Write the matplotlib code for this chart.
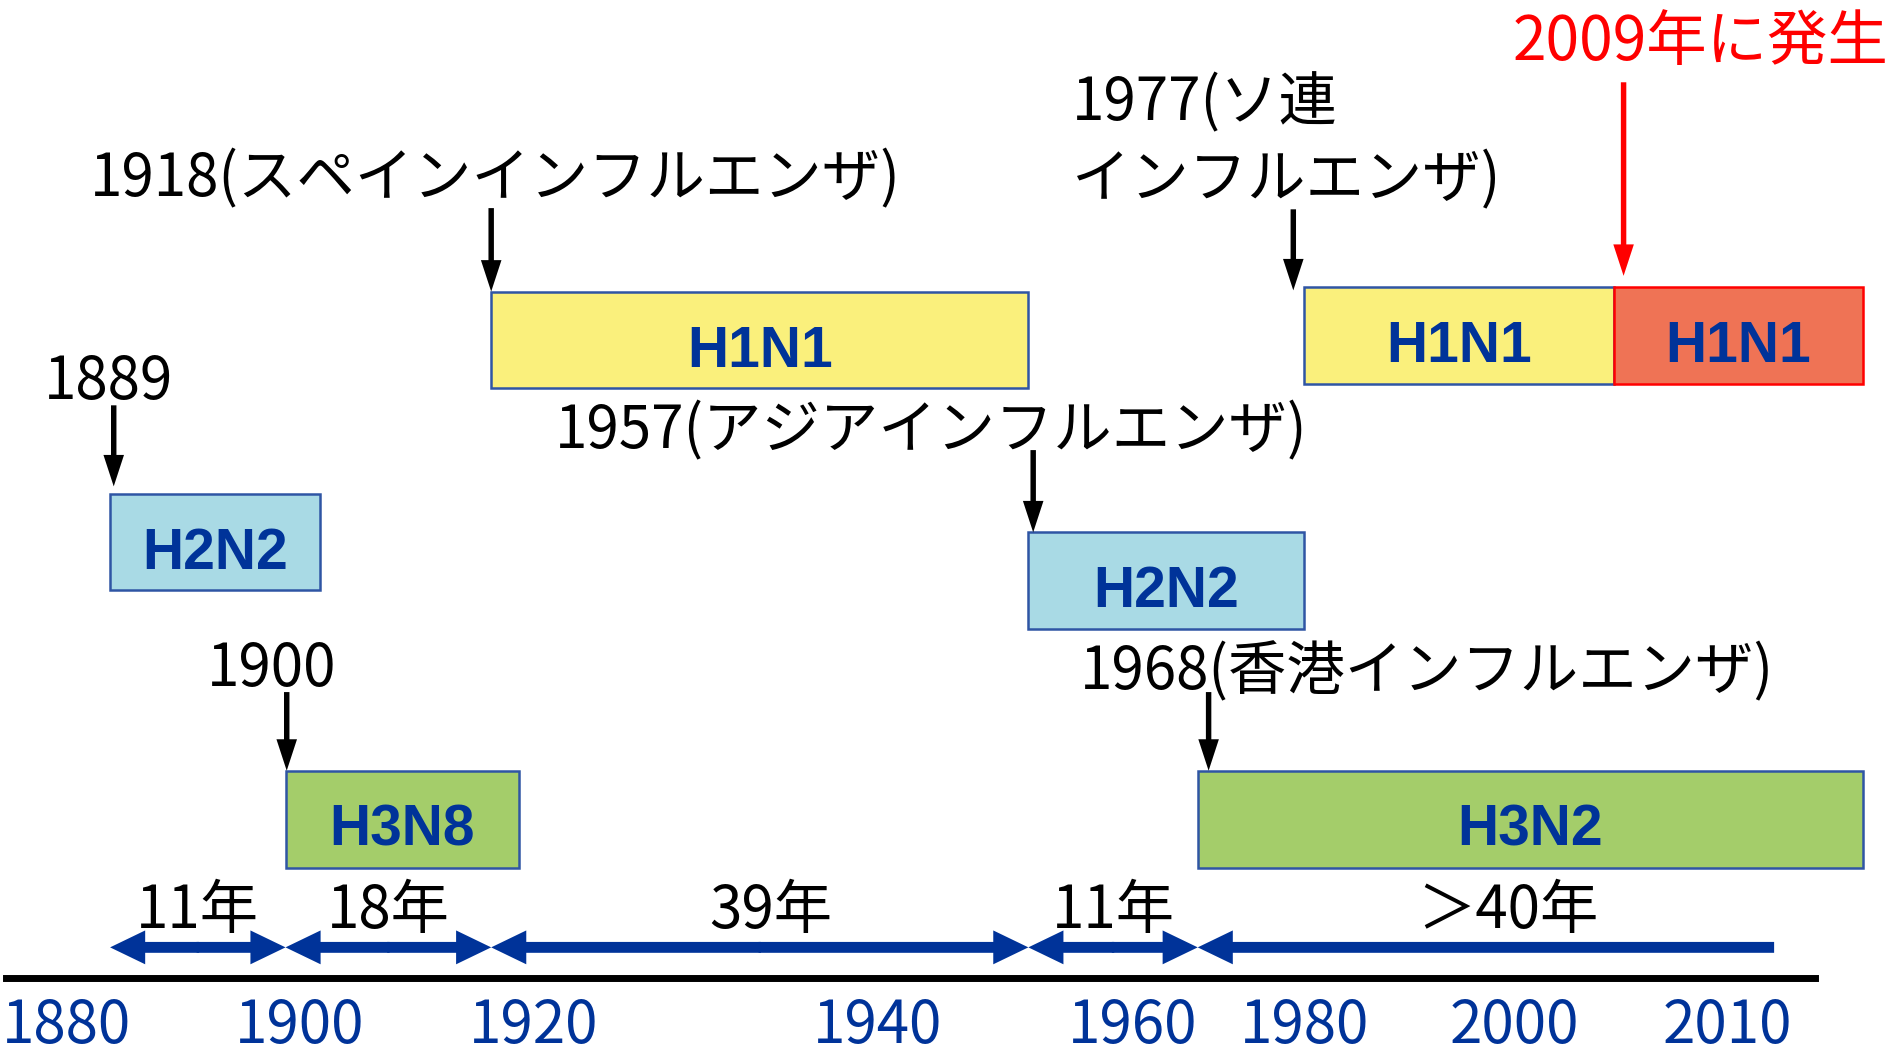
"""Timeline of influenza pandemics (subtypes and intervals), schematic layout."""

import matplotlib

matplotlib.use("Agg")
import matplotlib.pyplot as plt
import numpy as np

# --- data -------------------------------------------------------------------
EVENT_YEARS = [1889, 1900, 1918, 1957, 1968, 1977, 2009]
END_YEARS = [1903, 1920, 1957, 1977, 2016, 2009, 2016]
SUBTYPES = ["H2N2", "H3N8", "H1N1", "H2N2", "H3N2", "H1N1", "H1N1"]
EVENT_LABELS = [
    "1889",
    "1900",
    "1918(スペインインフルエンザ)",
    "1957(アジアインフルエンザ)",
    "1968(香港インフルエンザ)",
    "1977(ソ連\nインフルエンザ)",
    "2009年に発生",
]

INTERVAL_START = [1889, 1900, 1918, 1957, 1968]
INTERVAL_END = [1900, 1918, 1957, 1968, 2013.5]
INTERVAL_LABELS = ["11年", "18年", "39年", "11年", "＞40年"]

TICK_LABELS = ["1880", "1900", "1920", "1940", "1960", "1980", "2000", "2010"]

# --- layout (drawing units = pixels of a 1568x867 canvas) -----------------------
# the slide's time axis is schematic, not linear
YEAR_ANCHORS = [1889, 1900, 1918, 1957, 1968, 1977, 2009, 2016]
X_ANCHORS = [91, 236, 406, 850, 990, 1078, 1334, 1540]
TICK_X = [55, 248, 441, 725, 936, 1078, 1252, 1428]

BOX_Y = [448, 677, 281, 480, 677, 277, 277]
BOX_H = 80
LABEL_XY = [(36, 330), (171, 567), (74, 162), (459, 371), (893, 570), (886, 163), (1250, 50)]
ARROW_DX = [3, 1, 0, 4, 9, -9, 8]
ARROW_SPAN = [(335, 402), (572, 637), (172, 241), (372, 440), (572, 637), (173, 240), (68, 228)]
INTERVAL_Y = 783
INTERVAL_LABEL_DX = [0, 0, 9, 0, 18]

FACE = ["#A9DAE5", "#A4CD6A", "#FAF07C", "#A9DAE5", "#A4CD6A", "#FAF07C", "#EF7355"]
EDGE = ["#2F55A4"] * 6 + ["#FF0000"]
TEXT_COLOR = ["black"] * 6 + ["#FF0000"]
ARROW_COLOR = ["black"] * 6 + ["#FF0000"]
TEXT_SIZE = [42] * 6 + [43.5]
NAVY = "#003399"


def xpos(year):
    return np.interp(year, YEAR_ANCHORS, X_ANCHORS)


plt.rcParams["font.family"] = ["Noto Sans CJK JP", "DejaVu Sans"]

fig = plt.figure(figsize=(18.97, 10.49), dpi=100)
ax = fig.add_axes([0, 0, 1, 1])
ax.set_xlim(0, 1568)
ax.set_ylim(867, 0)

# subtype boxes
left = xpos(np.array(EVENT_YEARS))
right = xpos(np.array(END_YEARS))
ax.barh(BOX_Y, right - left, left=left, height=BOX_H, color=FACE,
        edgecolor=EDGE, linewidth=1.8, zorder=2)
for x0, x1, yc, name in zip(left, right, BOX_Y, SUBTYPES):
    ax.text((x0 + x1) / 2, yc + 22, name, ha="center", va="baseline",
            fontsize=41, fontweight="bold", family="Liberation Sans",
            color=NAVY, zorder=3)

# event labels and down arrows
for i, label in enumerate(EVENT_LABELS):
    lx, ly = LABEL_XY[i]
    ax.text(lx, ly, label, ha="left", va="baseline", fontsize=TEXT_SIZE[i],
            color=TEXT_COLOR[i], linespacing=1.34)
    y0, y1 = ARROW_SPAN[i]
    ax.arrow(left[i] + ARROW_DX[i], y0, 0, y1 - y0, width=4.5,
             head_width=17, head_length=26, length_includes_head=True,
             color=ARROW_COLOR[i], linewidth=0, zorder=4)

# interval arrows between pandemics
xs = xpos(np.array(INTERVAL_START))
xe = xpos(np.array(INTERVAL_END))
arrow_kw = dict(width=9, head_width=28, head_length=29, length_includes_head=True,
                color=NAVY, linewidth=0)
for i, (a, b) in enumerate(zip(xs, xe)):
    if i == len(xs) - 1:
        ax.arrow(b, INTERVAL_Y, a - b, 0, **arrow_kw)
    else:
        mid = (a + b) / 2
        ax.arrow(mid - 1, INTERVAL_Y, b - mid + 1, 0, **arrow_kw)
        ax.arrow(mid + 1, INTERVAL_Y, a - mid - 1, 0, **arrow_kw)
    ax.text((a + b) / 2 + INTERVAL_LABEL_DX[i], 767, INTERVAL_LABELS[i],
            ha="center", va="baseline", fontsize=42, color="black")

# baseline with year labels
for side in ["top", "left", "right"]:
    ax.spines[side].set_visible(False)
ax.spines["bottom"].set_position(("data", 808))
ax.spines["bottom"].set_bounds(5, 1500)
ax.spines["bottom"].set_linewidth(5)
ax.set_xticks(TICK_X, TICK_LABELS)
ax.set_yticks([])
ax.tick_params(axis="x", length=0, pad=13, labelsize=42, labelcolor=NAVY)

fig.savefig("out.png", dpi=100)
